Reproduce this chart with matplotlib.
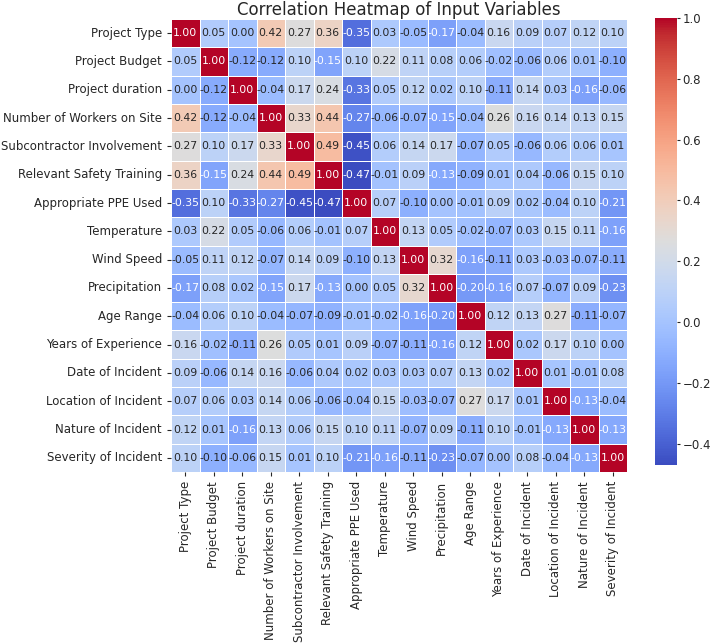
import numpy as np
import matplotlib
matplotlib.use("Agg")
import matplotlib.pyplot as plt
import seaborn as sns

labels = ["Project Type", "Project Budget", "Project duration",
          "Number of Workers on Site", "Subcontractor Involvement",
          "Relevant Safety Training", "Appropriate PPE Used", "Temperature",
          "Wind Speed", "Precipitation", "Age Range", "Years of Experience",
          "Date of Incident", "Location of Incident", "Nature of Incident",
          "Severity of Incident"]

# correlation matrix (symmetric)
corr = np.array([
    [1.00, 0.05, 0.00, 0.42, 0.27, 0.36, -0.35, 0.03, -0.05, -0.17, -0.04, 0.16, 0.09, 0.07, 0.12, 0.10],
    [0.05, 1.00, -0.12, -0.12, 0.10, -0.15, 0.10, 0.22, 0.11, 0.08, 0.06, -0.02, -0.06, 0.06, 0.01, -0.10],
    [0.00, -0.12, 1.00, -0.04, 0.17, 0.24, -0.33, 0.05, 0.12, 0.02, 0.10, -0.11, 0.14, 0.03, -0.16, -0.06],
    [0.42, -0.12, -0.04, 1.00, 0.33, 0.44, -0.27, -0.06, -0.07, -0.15, -0.04, 0.26, 0.16, 0.14, 0.13, 0.15],
    [0.27, 0.10, 0.17, 0.33, 1.00, 0.49, -0.45, 0.06, 0.14, 0.17, -0.07, 0.05, -0.06, 0.06, 0.06, 0.01],
    [0.36, -0.15, 0.24, 0.44, 0.49, 1.00, -0.47, -0.01, 0.09, -0.13, -0.09, 0.01, 0.04, -0.06, 0.15, 0.10],
    [-0.35, 0.10, -0.33, -0.27, -0.45, -0.47, 1.00, 0.07, -0.10, 0.00, -0.01, 0.09, 0.02, -0.04, 0.10, -0.21],
    [0.03, 0.22, 0.05, -0.06, 0.06, -0.01, 0.07, 1.00, 0.13, 0.05, -0.02, -0.07, 0.03, 0.15, 0.11, -0.16],
    [-0.05, 0.11, 0.12, -0.07, 0.14, 0.09, -0.10, 0.13, 1.00, 0.32, -0.16, -0.11, 0.03, -0.03, -0.07, -0.11],
    [-0.17, 0.08, 0.02, -0.15, 0.17, -0.13, 0.00, 0.05, 0.32, 1.00, -0.20, -0.16, 0.07, -0.07, 0.09, -0.23],
    [-0.04, 0.06, 0.10, -0.04, -0.07, -0.09, -0.01, -0.02, -0.16, -0.20, 1.00, 0.12, 0.13, 0.27, -0.11, -0.07],
    [0.16, -0.02, -0.11, 0.26, 0.05, 0.01, 0.09, -0.07, -0.11, -0.16, 0.12, 1.00, 0.02, 0.17, 0.10, 0.00],
    [0.09, -0.06, 0.14, 0.16, -0.06, 0.04, 0.02, 0.03, 0.03, 0.07, 0.13, 0.02, 1.00, 0.01, -0.01, 0.08],
    [0.07, 0.06, 0.03, 0.14, 0.06, -0.06, -0.04, 0.15, -0.03, -0.07, 0.27, 0.17, 0.01, 1.00, -0.13, -0.04],
    [0.12, 0.01, -0.16, 0.13, 0.06, 0.15, 0.10, 0.11, -0.07, 0.09, -0.11, 0.10, -0.01, -0.13, 1.00, -0.13],
    [0.10, -0.10, -0.06, 0.15, 0.01, 0.10, -0.21, -0.16, -0.11, -0.23, -0.07, 0.00, 0.08, -0.04, -0.13, 1.00],
])
cbar_ticks = [-0.4, -0.2, 0.0, 0.2, 0.4, 0.6, 0.8, 1.0]

plt.rcParams['text.color'] = '#262626'
plt.rcParams['xtick.color'] = '#262626'
plt.rcParams['ytick.color'] = '#262626'
plt.rcParams['axes.labelcolor'] = '#262626'

W, H = 711, 643
fig = plt.figure(figsize=(W / 100, H / 100), dpi=100)
ax = fig.add_axes([171 / W, 1 - 472 / H, 456 / W, 453 / H])
cax = fig.add_axes([655 / W, 1 - 465 / H, 22 / W, 447 / H])

sns.heatmap(corr, annot=True, fmt=".2f", cmap="coolwarm", linewidths=0.7,
            linecolor="white", xticklabels=labels, yticklabels=labels,
            annot_kws={"size": 7.8}, ax=ax, cbar_ax=cax)

ax.tick_params(axis='both', labelsize=8.5, length=3, width=0.8)
ax.set_xticklabels(labels, rotation=90)
ax.set_yticklabels(labels, rotation=0)
cax.tick_params(labelsize=8.5, length=2.5, width=0.8, pad=1.5)
cax.set_yticks(cbar_ticks)
ax.set_title("Correlation Heatmap of Input Variables", fontsize=12, pad=2.5)

fig.savefig("out.png", dpi=100)
